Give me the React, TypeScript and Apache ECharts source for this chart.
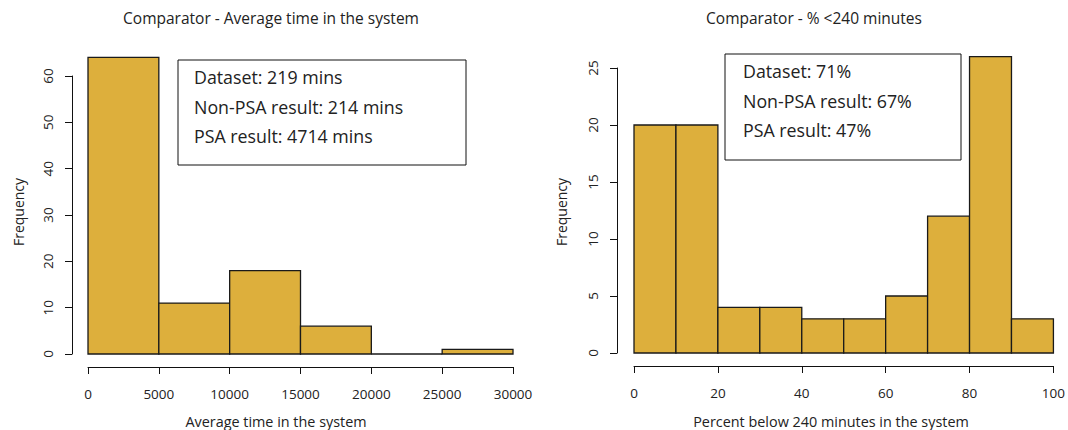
import React, { useEffect, useRef } from "react";
import * as echarts from "echarts";

const timeBinEdges = [0, 5000, 10000, 15000, 20000, 25000, 30000];
const timeCounts = [64, 11, 18, 6, 0, 1];

const pctBinEdges = [0, 10, 20, 30, 40, 50, 60, 70, 80, 90, 100];
const pctCounts = [20, 20, 4, 4, 3, 3, 5, 12, 26, 3];

const leftLegend = ["Dataset: 219 mins", "Non-PSA result: 214 mins", "PSA result: 4714 mins"];
const rightLegend = ["Dataset: 71%", "Non-PSA result: 67%", "PSA result: 47%"];

const FONT = "'Open Sans', 'Noto Sans', sans-serif";
const FILL = "#DDAF3C";
const EDGE = "#1a1a1a";
const TXT = "#222";

function binsToData(edges: number[], counts: number[]) {
  return counts.map((c, i) => [edges[i], edges[i + 1], c]);
}

const renderRect = (params: any, api: any) => {
  const x0 = api.value(0);
  const x1 = api.value(1);
  const y = api.value(2);
  const p0 = api.coord([x0, 0]);
  const p1 = api.coord([x1, y]);
  return {
    type: "rect",
    shape: { x: p0[0], y: p1[1], width: p1[0] - p0[0], height: p0[1] - p1[1] },
    style: { fill: FILL, stroke: EDGE, lineWidth: 1.3 },
  };
};

function axisCommon(extra: any) {
  return {
    type: "value",
    splitLine: { show: false },
    axisLine: { show: true, onZero: false, lineStyle: { color: "#111", width: 1 } },
    axisTick: { show: true, inside: false, length: 7, lineStyle: { color: "#111", width: 1 } },
    ...extra,
  };
}

export default function App() {
  const ref = useRef<HTMLDivElement>(null);
  useEffect(() => {
    if (!ref.current) return;
    const chart = echarts.init(ref.current, null, { renderer: "svg" });
    const labelX = {
      fontFamily: FONT,
      fontSize: 13.5,
      color: TXT,
      margin: 20,
      formatter: (v: number) => String(v),
    };
    const labelY = {
      fontFamily: FONT,
      fontSize: 13.5,
      color: TXT,
      rotate: 90,
      margin: 17,
      align: "center",
      verticalAlign: "bottom",
    };

    const legendGraphic = (lines: string[], bx: number, by: number, bw: number, bh: number, tx: number, ty: number) => [
      {
        type: "rect",
        shape: { x: bx, y: by, width: bw, height: bh },
        style: { fill: "#fff", stroke: "#111", lineWidth: 1 },
        z: 10,
      },
      ...lines.map((t, i) => ({
        type: "text",
        x: tx,
        y: ty + i * 29.5,
        style: { text: t, font: `17.8px ${FONT}`, fill: TXT, textVerticalAlign: "middle" },
        z: 11,
      })),
    ];

    const textG = (t: string, x: number, y: number, size: number, rot = 0) => ({
      type: "text",
      x,
      y,
      rotation: rot,
      style: { text: t, font: `${size}px ${FONT}`, fill: TXT, textAlign: "center", textVerticalAlign: "middle" },
    });

    chart.setOption({
      animation: false,
      grid: [
        { left: 88, top: 76, width: 425, height: 278 },
        { left: 634, top: 68, width: 424, height: 285 },
      ],
      xAxis: [
        axisCommon({ gridIndex: 0, min: 0, max: 30000, interval: 5000, offset: 13, axisLabel: labelX }),
        axisCommon({ gridIndex: 1, min: 0, max: 100, interval: 20, offset: 13, axisLabel: labelX }),
      ],
      yAxis: [
        axisCommon({ gridIndex: 0, min: 0, max: 60, interval: 10, offset: 16, axisLabel: labelY }),
        axisCommon({ gridIndex: 1, min: 0, max: 25, interval: 5, offset: 17, axisLabel: labelY }),
      ],
      series: [
        {
          type: "custom",
          xAxisIndex: 0,
          yAxisIndex: 0,
          renderItem: renderRect,
          data: binsToData(timeBinEdges, timeCounts),
          clip: false,
        },
        {
          type: "custom",
          xAxisIndex: 1,
          yAxisIndex: 1,
          renderItem: renderRect,
          data: binsToData(pctBinEdges, pctCounts),
          clip: false,
        },
      ],
      graphic: [
        textG("Comparator - Average time in the system", 271, 18, 15.5),
        textG("Comparator - % <240 minutes", 814, 18, 15.5),
        textG("Average time in the system", 276, 421, 14.4),
        textG("Percent below 240 minutes in the system", 831, 421, 14.4),
        textG("Frequency", 18, 212, 14, Math.PI / 2),
        textG("Frequency", 561, 212, 14, Math.PI / 2),
        ...legendGraphic(leftLegend, 178, 60, 288, 105, 194, 77),
        ...legendGraphic(rightLegend, 725, 54, 236, 106, 743, 71),
      ],
    });
    return () => chart.dispose();
  }, []);
  return (
    <div
      ref={ref}
      style={{ position: "fixed", left: 0, top: 0, width: 1068, height: 430, background: "#fff" }}
    />
  );
}
